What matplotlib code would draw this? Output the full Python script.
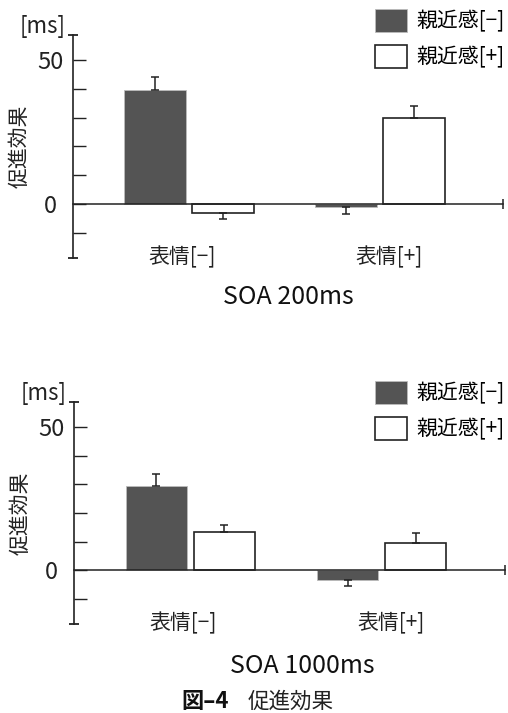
import matplotlib
matplotlib.use("Agg")
import matplotlib.pyplot as plt
from matplotlib.patches import Patch
import numpy as np

plt.rcParams['font.family'] = ['Noto Sans CJK JP', 'DejaVu Sans']

groups = ["表情[−]", "表情[+]"]
series = ["親近感[−]", "親近感[+]"]

# SOA 200ms
soa200_minus = [39.5, -1.0]
soa200_plus = [-3.0, 29.7]
soa200_minus_err = [4.5, 2.5]
soa200_plus_err = [2.2, 4.2]

# SOA 1000ms
soa1000_minus = [29.5, -3.6]
soa1000_plus = [13.2, 9.6]
soa1000_minus_err = [3.9, 2.0]
soa1000_plus_err = [2.7, 3.4]

yticks = [-10, 0, 10, 20, 30, 40, 50]
ytick_labels = ["", "0", "", "", "", "", "50"]

DARK = "#545454"
INK = "#222222"
W = 508
H = 713


def one_sided(vals, errs):
    vals = np.asarray(vals)
    errs = np.asarray(errs)
    lower = np.where(vals < 0, errs, 0)
    upper = np.where(vals >= 0, errs, 0)
    return [lower, upper]


def draw_panel(ax, minus, plus, minus_err, plus_err, title, title_x, title_y):
    x = np.arange(len(groups))
    w = 0.32
    off = 0.178
    ekw = dict(elinewidth=1.1, capthick=1.1, ecolor=INK)
    ax.bar(x - off, minus, w, color=DARK, edgecolor="#bbbbbb", linewidth=0.6,
           yerr=one_sided(minus, minus_err), capsize=2.8, error_kw=ekw)
    ax.bar(x + off, plus, w, color="white", edgecolor=INK, linewidth=1.2,
           yerr=one_sided(plus, plus_err), capsize=2.8, error_kw=ekw)
    ax.set_xlim(-0.607, 1.644)
    ax.set_ylim(-18.8, 58.7)
    for s in ["top", "right"]:
        ax.spines[s].set_visible(False)
    ax.spines["bottom"].set_position(("data", 0))
    ax.spines["bottom"].set_linewidth(1.1)
    ax.spines["left"].set_linewidth(1.2)
    ax.spines["left"].set_color(INK)
    ax.spines["bottom"].set_color(INK)
    ax.set_xticks([])
    ax.set_yticks(yticks)
    ax.set_yticklabels(ytick_labels, fontsize=17)
    ax.tick_params(axis="y", direction="in", length=9.5, width=1.0,
                   pad=16, colors=INK)
    for lab in ax.get_yticklabels():
        lab.set_horizontalalignment("center")
    # end caps on the axes
    ax.plot([-0.607, -0.607], [58.7, -18.8], marker="_", ms=7, mew=1.3,
            color=INK, ls="none", clip_on=False)
    ax.plot([1.644], [0], marker="|", ms=7, mew=1.1, color=INK,
            ls="none", clip_on=False)
    label_x = [-0.037, 1.047]
    for lx, g in zip(label_x, groups):
        ax.text(lx, -18.6, g, ha="center", va="center", fontsize=15, color=INK)
    ax.set_ylabel("促進効果", fontsize=15, color=INK)
    ax.yaxis.label.set_verticalalignment("center")
    ax.yaxis.set_label_coords(-0.123, 0.5)
    ax.text(-0.645, 61.8, "[ms]", ha="right", va="center", fontsize=16,
            color=INK)
    ax.text(title_x, title_y, title, ha="center", va="center", fontsize=18,
            color="#111111")
    handles = [Patch(facecolor=DARK, edgecolor="#bbbbbb", linewidth=0.6),
               Patch(facecolor="white", edgecolor=INK, linewidth=1.2)]
    return handles


fig = plt.figure(figsize=(W / 100, H / 100), dpi=100)

ax1 = fig.add_axes([73 / W, (H - 258) / H, 430 / W, 223 / H])
h = draw_panel(ax1, soa200_minus, soa200_plus, soa200_minus_err,
               soa200_plus_err, "SOA 200ms", 0.518, -32.5)
fig.legend(h, series, loc="upper left", bbox_to_anchor=(375 / W, 1 - 9 / H),
           frameon=False, fontsize=15, handlelength=1.55, handleheight=1.3,
           handletextpad=0.45, labelspacing=0.6, borderpad=0, borderaxespad=0)

ax2 = fig.add_axes([74 / W, (H - 624) / H, 431 / W, 222 / H])
h = draw_panel(ax2, soa1000_minus, soa1000_plus, soa1000_minus_err,
               soa1000_plus_err, "SOA 1000ms", 0.584, -33.5)
fig.legend(h, series, loc="upper left", bbox_to_anchor=(375 / W, 1 - 381 / H),
           frameon=False, fontsize=15, handlelength=1.55, handleheight=1.3,
           handletextpad=0.45, labelspacing=0.6, borderpad=0, borderaxespad=0)

fig.text(205 / W, 1 - 702 / H, "図–4", ha="center", va="center",
         fontsize=16, fontweight="bold", color="#111111")
fig.text(291 / W, 1 - 702 / H, "促進効果", ha="center", va="center",
         fontsize=15.5, color=INK)

fig.savefig("out.png", dpi=100)
